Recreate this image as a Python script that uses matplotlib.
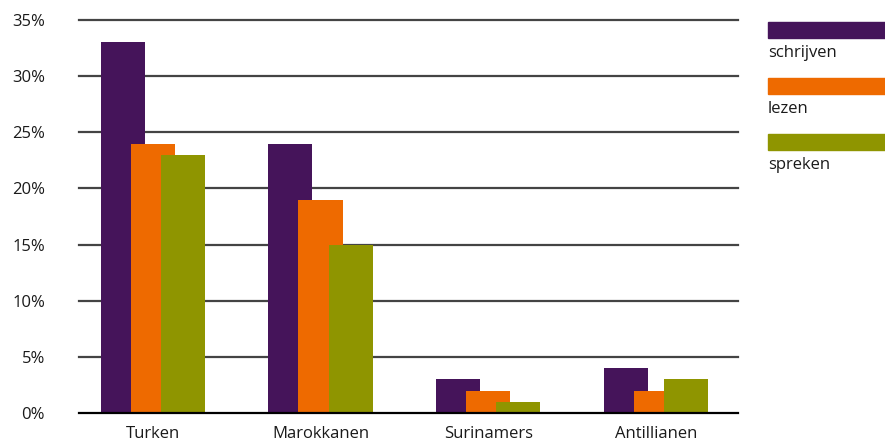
import numpy as np
import matplotlib.pyplot as plt
from matplotlib.patches import Rectangle

plt.rcParams['font.family'] = ['Open Sans', 'DejaVu Sans']

# data
groepen = ["Turken", "Marokkanen", "Surinamers", "Antillianen"]
reeksen = ["schrijven", "lezen", "spreken"]
schrijven = [33, 24, 3, 4]
lezen = [24, 19, 2, 2]
spreken = [23, 15, 1, 3]
yticks = [0, 5, 10, 15, 20, 25, 30, 35]

kleuren = ["#45145a", "#ee6a00", "#8f9500"]
fs = 12

fig = plt.figure(figsize=(8.85, 4.42), dpi=100)
ax = fig.add_axes([79 / 885, 1 - 413 / 442, (738 - 79) / 885, (413 - 20) / 442])

x = np.arange(len(groepen))
breedte = 0.263
stap = 0.18
for i, (waarden, kleur) in enumerate(zip([schrijven, lezen, spreken], kleuren)):
    ax.bar(x + (i - 1) * stap, waarden, width=breedte, color=kleur, zorder=3 + i)

# rasterlijnen
for t in yticks[1:]:
    ax.axhline(t, color="#444444", linewidth=1.6, zorder=1, clip_on=False)
ax.axhline(0, color="black", linewidth=1.6, zorder=10, clip_on=False)

ax.set_xlim(-0.44, 3.49)
ax.set_ylim(0, 35)
ax.set_yticks(yticks)
ax.set_yticklabels([f"{t}%" for t in yticks], fontsize=fs, color="#1a1a1a")
ax.set_xticks(x)
ax.set_xticklabels(groepen, fontsize=fs, color="#1a1a1a")
ax.tick_params(axis="y", length=0, pad=24.5)
ax.tick_params(axis="x", length=0, pad=9)
for s in ax.spines.values():
    s.set_visible(False)

# legenda
for i, (naam, kleur) in enumerate(zip(reeksen, kleuren)):
    top = 22 + i * 56
    fig.patches.append(Rectangle((768 / 885, 1 - (top + 16) / 442), (885 - 768) / 885, 16 / 442,
                                 transform=fig.transFigure, color=kleur))
    fig.text(768 / 885, 1 - (top + 31) / 442, naam, fontsize=fs, color="#1a1a1a",
             ha="left", va="center")

fig.savefig("out.png", dpi=100)
